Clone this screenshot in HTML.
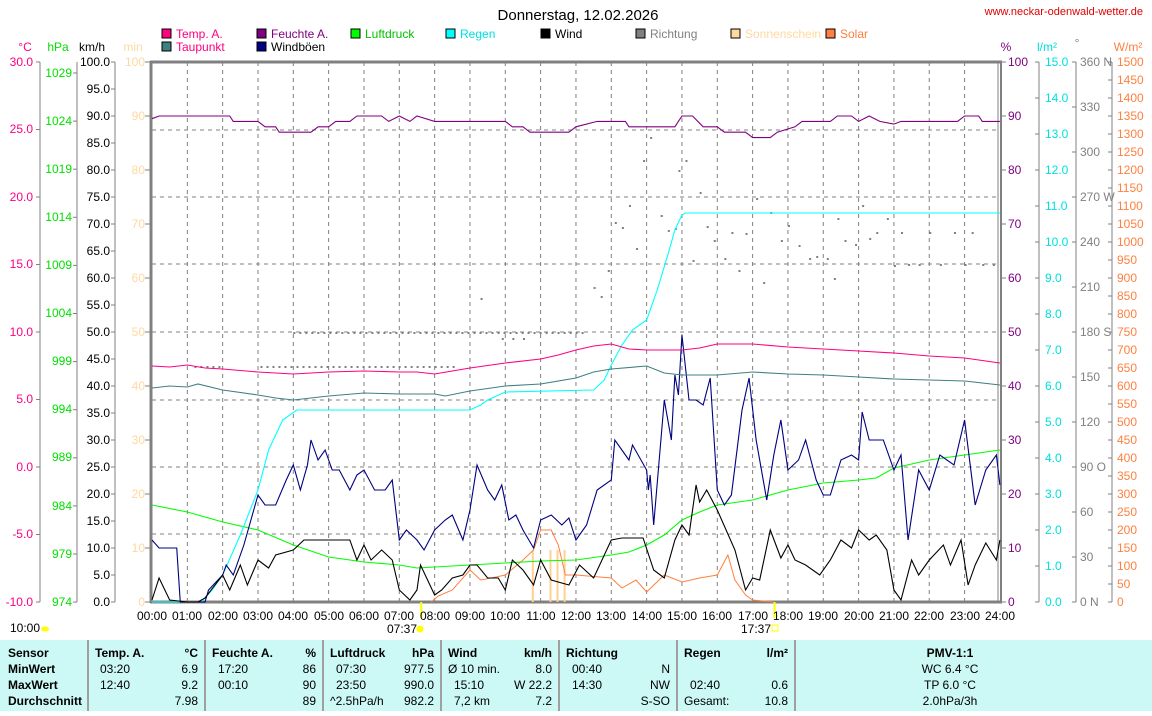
<!DOCTYPE html>
<html><head><meta charset="utf-8"><style>
body{margin:0;background:#fff;width:1152px;height:711px;overflow:hidden;font-family:"Liberation Sans",sans-serif}
svg text{font-family:"Liberation Sans",sans-serif;font-size:12px}
</style></head><body>
<svg id="s" width="1152" height="711" xmlns="http://www.w3.org/2000/svg">
<rect x="0" y="640" width="1152" height="71" fill="#ccf8f6"/>
<g stroke="#a0a0a0" stroke-width="2"><line x1="88" y1="640" x2="88" y2="711"/><line x1="205" y1="640" x2="205" y2="711"/><line x1="323" y1="640" x2="323" y2="711"/><line x1="441" y1="640" x2="441" y2="711"/><line x1="559" y1="640" x2="559" y2="711"/><line x1="677" y1="640" x2="677" y2="711"/><line x1="795" y1="640" x2="795" y2="711"/></g>
<text x="578" y="20" font-size="15" text-anchor="middle" style="font-size:15px">Donnerstag, 12.02.2026</text>
<text x="1143" y="15" fill="#e00000" text-anchor="end" style="font-size:11px">www.neckar-odenwald-wetter.de</text>
<g id="legend"></g>
<text x="25" y="51" fill="#ff0080" text-anchor="middle">°C</text>
<text x="58" y="51" fill="#00e000" text-anchor="middle">hPa</text>
<text x="92" y="51" fill="#000" text-anchor="middle">km/h</text>
<text x="133" y="51" fill="#ffd8a0" text-anchor="middle">min</text>
<text x="1006" y="51" fill="#800080" text-anchor="middle">%</text>
<text x="1047" y="51" fill="#00e0e0" text-anchor="middle">l/m²</text>
<text x="1077" y="47" fill="#808080" text-anchor="middle">°</text>
<text x="1128" y="51" fill="#ff8040" text-anchor="middle">W/m²</text>
<g id="grid"></g><g id="axes"></g><g id="series"></g>
<g fill="#ff0080" text-anchor="end">
<text x="33" y="66">30.0</text><text x="33" y="201">20.0</text><text x="33" y="133">25.0</text><text x="33" y="268">15.0</text><text x="33" y="336">10.0</text><text x="33" y="403">5.0</text><text x="33" y="471">0.0</text><text x="33" y="538">-5.0</text><text x="33" y="606">-10.0</text></g>
<g fill="#00e000" text-anchor="end">
<text x="72" y="77">1029</text><text x="72" y="125">1024</text><text x="72" y="173">1019</text><text x="72" y="221">1014</text><text x="72" y="269">1009</text><text x="72" y="317">1004</text><text x="72" y="365">999</text><text x="72" y="413">994</text><text x="72" y="461">989</text><text x="72" y="510">984</text><text x="72" y="558">979</text><text x="72" y="606">974</text></g>
<g fill="#000" text-anchor="end">
<text x="110" y="66">100.0</text><text x="110" y="93">95.0</text><text x="110" y="120">90.0</text><text x="110" y="147">85.0</text><text x="110" y="174">80.0</text><text x="110" y="201">75.0</text><text x="110" y="228">70.0</text><text x="110" y="255">65.0</text><text x="110" y="282">60.0</text><text x="110" y="309">55.0</text><text x="110" y="336">50.0</text><text x="110" y="363">45.0</text><text x="110" y="390">40.0</text><text x="110" y="417">35.0</text><text x="110" y="444">30.0</text><text x="110" y="471">25.0</text><text x="110" y="498">20.0</text><text x="110" y="525">15.0</text><text x="110" y="552">10.0</text><text x="110" y="579">5.0</text><text x="110" y="606">0.0</text></g>
<g fill="#ffd8a0" text-anchor="end">
<text x="145" y="66">100</text><text x="145" y="120">90</text><text x="145" y="174">80</text><text x="145" y="228">70</text><text x="145" y="282">60</text><text x="145" y="336">50</text><text x="145" y="390">40</text><text x="145" y="444">30</text><text x="145" y="498">20</text><text x="145" y="552">10</text><text x="145" y="606">0</text></g>
<g fill="#800080">
<text x="1008" y="66">100</text><text x="1008" y="120">90</text><text x="1008" y="174">80</text><text x="1008" y="228">70</text><text x="1008" y="282">60</text><text x="1008" y="336">50</text><text x="1008" y="390">40</text><text x="1008" y="444">30</text><text x="1008" y="498">20</text><text x="1008" y="552">10</text><text x="1008" y="606">0</text></g>
<g fill="#00e0e0">
<text x="1045" y="66">15.0</text><text x="1045" y="102">14.0</text><text x="1045" y="138">13.0</text><text x="1045" y="174">12.0</text><text x="1045" y="210">11.0</text><text x="1045" y="246">10.0</text><text x="1045" y="282">9.0</text><text x="1045" y="318">8.0</text><text x="1045" y="354">7.0</text><text x="1045" y="390">6.0</text><text x="1045" y="426">5.0</text><text x="1045" y="462">4.0</text><text x="1045" y="498">3.0</text><text x="1045" y="534">2.0</text><text x="1045" y="570">1.0</text><text x="1045" y="606">0.0</text></g>
<g fill="#808080">
<text x="1080" y="66">360 N</text><text x="1080" y="111">330</text><text x="1080" y="156">300</text><text x="1080" y="201">270 W</text><text x="1080" y="246">240</text><text x="1080" y="291">210</text><text x="1080" y="336">180 S</text><text x="1080" y="381">150</text><text x="1080" y="426">120</text><text x="1080" y="471">90  O</text><text x="1080" y="516">60</text><text x="1080" y="561">30</text><text x="1080" y="606">0    N</text></g>
<g fill="#ff8040" id="wlab"></g>
<g text-anchor="middle" fill="#000">
<text x="152" y="620">00:00</text><text x="187" y="620">01:00</text><text x="223" y="620">02:00</text><text x="258" y="620">03:00</text><text x="293" y="620">04:00</text><text x="329" y="620">05:00</text><text x="364" y="620">06:00</text><text x="399" y="620">07:00</text><text x="435" y="620">08:00</text><text x="470" y="620">09:00</text><text x="505" y="620">10:00</text><text x="541" y="620">11:00</text><text x="576" y="620">12:00</text><text x="611" y="620">13:00</text><text x="647" y="620">14:00</text><text x="682" y="620">15:00</text><text x="717" y="620">16:00</text><text x="753" y="620">17:00</text><text x="788" y="620">18:00</text><text x="823" y="620">19:00</text><text x="859" y="620">20:00</text><text x="894" y="620">21:00</text><text x="929" y="620">22:00</text><text x="965" y="620">23:00</text><text x="1000" y="620">24:00</text>
<text x="402" y="633">07:37</text><text x="756" y="633">17:37</text></g>
<circle cx="420" cy="629" r="3.5" fill="#ffff00"/>
<rect x="772" y="625" width="6" height="6" fill="none" stroke="#ffff00"/>
<text x="10" y="632">10:00</text><ellipse cx="45" cy="629" rx="4" ry="2.5" fill="#ffff00"/>
<g font-weight="bold" style="font-weight:bold">
<text x="8" y="657" font-weight="bold">Sensor</text><text x="8" y="673" font-weight="bold">MinWert</text><text x="8" y="689" font-weight="bold">MaxWert</text><text x="8" y="705" font-weight="bold">Durchschnitt</text>
<text x="95" y="657" font-weight="bold">Temp. A.</text><text x="198" y="657" text-anchor="end" font-weight="bold">°C</text>
<text x="212" y="657" font-weight="bold">Feuchte A.</text><text x="316" y="657" text-anchor="end" font-weight="bold">%</text>
<text x="330" y="657" font-weight="bold">Luftdruck</text><text x="434" y="657" text-anchor="end" font-weight="bold">hPa</text>
<text x="448" y="657" font-weight="bold">Wind</text><text x="552" y="657" text-anchor="end" font-weight="bold">km/h</text>
<text x="566" y="657" font-weight="bold">Richtung</text>
<text x="684" y="657" font-weight="bold">Regen</text><text x="788" y="657" text-anchor="end" font-weight="bold">l/m²</text>
<text x="950" y="657" text-anchor="middle" font-weight="bold">PMV-1:1</text></g>
<g>
<text x="100" y="673">03:20</text><text x="198" y="673" text-anchor="end">6.9</text>
<text x="100" y="689">12:40</text><text x="198" y="689" text-anchor="end">9.2</text>
<text x="198" y="705" text-anchor="end">7.98</text>
<text x="218" y="673">17:20</text><text x="316" y="673" text-anchor="end">86</text>
<text x="218" y="689">00:10</text><text x="316" y="689" text-anchor="end">90</text>
<text x="316" y="705" text-anchor="end">89</text>
<text x="336" y="673">07:30</text><text x="434" y="673" text-anchor="end">977.5</text>
<text x="336" y="689">23:50</text><text x="434" y="689" text-anchor="end">990.0</text>
<text x="330" y="705">^2.5hPa/h</text><text x="434" y="705" text-anchor="end">982.2</text>
<text x="448" y="673">Ø 10 min.</text><text x="552" y="673" text-anchor="end">8.0</text>
<text x="454" y="689">15:10</text><text x="552" y="689" text-anchor="end">W 22.2</text>
<text x="454" y="705">7,2 km</text><text x="552" y="705" text-anchor="end">7.2</text>
<text x="572" y="673">00:40</text><text x="670" y="673" text-anchor="end">N</text>
<text x="572" y="689">14:30</text><text x="670" y="689" text-anchor="end">NW</text>
<text x="670" y="705" text-anchor="end">S-SO</text>
<text x="690" y="689">02:40</text><text x="788" y="689" text-anchor="end">0.6</text>
<text x="684" y="705">Gesamt:</text><text x="788" y="705" text-anchor="end">10.8</text>
<text x="950" y="673" text-anchor="middle">WC 6.4 °C</text>
<text x="950" y="689" text-anchor="middle">TP 6.0 °C</text>
<text x="950" y="705" text-anchor="middle">2.0hPa/3h</text></g>
</svg>
<script>
var NS="http://www.w3.org/2000/svg";
function el(p,t,a){var e=document.createElementNS(NS,t);for(var k in a)e.setAttribute(k,a[k]);document.getElementById(p).appendChild(e);return e;}
function X(h){return 152+h*35.33;}
var L=[[162,38,"#ff0080","Temp. A.","#ff0080"],[257,38,"#800080","Feuchte A.","#800080"],[351,38,"#00ff00","Luftdruck","#00c000"],[446,38,"#00ffff","Regen","#00e0e0"],[541,38,"#000000","Wind","#000"],[636,38,"#808080","Richtung","#808080"],[731,38,"#ffd8a0","Sonnenschein","#ffd8a0"],[826,38,"#ff8040","Solar","#ff8040"],[162,51,"#408080","Taupunkt","#ff0080"],[257,51,"#000080","Windböen","#000"]];
L.forEach(function(l){el("legend","rect",{x:l[0],y:l[1]-9,width:9,height:9,fill:l[2],stroke:"#000"});var t=el("legend","text",{x:l[0]+14,y:l[1],fill:l[4]});t.textContent=l[3];});
for(var k=0;k<=30;k++){var t=el("wlab","text",{x:1117,y:62+18*k+4});t.textContent=String(1500-50*k);}
for(var h=1;h<24;h++)el("grid","line",{x1:X(h),y1:62,x2:X(h),y2:602,stroke:"#808080","stroke-dasharray":"4,4"});
[130,197,264,332,400,467,534].forEach(function(y){el("grid","line",{x1:152,y1:y,x2:998,y2:y,stroke:"#808080","stroke-dasharray":"4,4"});});
el("axes","line",{x1:151,y1:61,x2:151,y2:603,stroke:"#808080","stroke-width":3});
el("axes","line",{x1:150,y1:62,x2:1002,y2:62,stroke:"#808080","stroke-width":3});
el("axes","line",{x1:150,y1:602,x2:1002,y2:602,stroke:"#808080","stroke-width":3});
el("axes","line",{x1:998,y1:62,x2:998,y2:602,stroke:"#808080","stroke-width":1});
el("axes","line",{x1:1001,y1:62,x2:1001,y2:602,stroke:"#808080","stroke-width":2});
function ax(x,step,n,side,y0){el("axes","line",{x1:x,y1:62,x2:x,y2:602,stroke:"#808080"});for(var i=0;i<=n;i++){var y=(y0||62)+step*i;if(y>602.5)break;el("axes","line",{x1:x-(side?0:4),y1:y,x2:x+(side?4:0),y2:y,stroke:"#808080"});}}
ax(40,67.5,8,0);ax(77,48.1,11,0,73);ax(115,27,20,0);ax(1039,36,15,0);ax(1076,45,12,0);ax(1112,18,30,0);
for(var i=0;i<=10;i++){el("axes","line",{x1:145,y1:62+54*i,x2:151,y2:62+54*i,stroke:"#808080"});el("axes","line",{x1:1001,y1:62+54*i,x2:1006,y2:62+54*i,stroke:"#808080"});}
function pl(pts,c,w){el("series","polyline",{points:pts.map(function(p){return X(p[0])+","+p[1];}).join(" "),fill:"none",stroke:c,"stroke-width":w||1.1});}
var D=[];for(var h=4;h<12.3;h+=0.17)D.push([h,332]);for(var h=1.2;h<8.6;h+=0.17)if(h<2||h>2.9)D.push([h,366]);
[[9.3,298],[9.9,338],[10.2,338],[10.5,338],[12.5,287],[12.7,296],[12.9,270],[13.1,222],[13.3,227],[13.5,205],[13.7,248],[13.9,160],[14.1,137],[14.4,215],[14.6,230],[14.8,228],[14.9,170],[15.1,160],[15.3,260],[15.5,192],[15.7,226],[15.9,240],[16.2,258],[16.4,232],[16.6,270],[16.8,233],[17.1,198],[17.3,282],[17.5,212],[17.8,240],[18,225],[18.3,245],[18.6,258],[18.8,256],[19.1,258],[19.3,278],[19.4,218],[19.6,240],[19.9,244],[20.1,205],[20.3,238],[20.5,232],[20.8,218],[21,265],[21.2,232],[21.4,264],[21.7,264],[22,232],[22.3,264],[22.7,232],[23,264],[23.2,232],[23.5,264],[23.8,264],[24,264]].forEach(function(p){D.push(p);});
D.forEach(function(p){el("series","rect",{x:X(p[0]),y:p[1],width:2,height:2,fill:"#808080"});});
[10.75,11.25,11.45,11.65].forEach(function(h){el("series","rect",{x:X(h),y:550,width:2,height:52,fill:"#ffd090"});});
pl([[7.9,602],[8.1,596],[8.5,590],[9,570],[9.3,580],[9.6,578],[10,575],[10.5,560],[10.8,550],[11,530],[11.3,530],[11.5,545],[11.7,575],[12,575],[13,578],[13.3,588],[13.7,580],[14,592],[14.5,575],[15,582],[15.5,578],[16,575],[16.3,555],[16.5,580],[16.8,595],[17,600],[17.6,602]],"#ff8040",1);
pl([[0,505],[1,512],[2,522],[3,530],[4,545],[5,557],[6,562],[7,565],[7.5,568],[8,567],[9,565],[10,563],[11,561],[12,560],[13,555],[13.5,552],[14,545],[14.5,535],[15,520],[15.5,512],[16,505],[17,500],[18,490],[19,483],[20,480],[20.5,478],[21,468],[22,460],[23,455],[24,450]],"#00ff00");
pl([[0,602],[1.4,602],[1.7,590],[2,575],[2.5,535],[3,490],[3.3,450],[3.7,420],[4.1,410],[9,410],[9.3,405],[9.5,400],[10,392],[12.5,390],[12.8,380],[13,365],[13.3,345],[13.6,330],[14,320],[14.3,290],[14.6,255],[14.8,230],[15,215],[15.1,213],[24,213]],"#00ffff");
pl([[0,540],[0.2,548],[0.7,548],[0.8,602],[1.5,602],[1.6,590],[2,575],[2.1,565],[2.3,575],[2.6,545],[2.8,520],[3,495],[3.2,505],[3.5,505],[3.8,480],[4,465],[4.2,490],[4.4,465],[4.5,440],[4.7,460],[4.9,450],[5.1,470],[5.3,470],[5.6,490],[5.8,475],[6,470],[6.3,490],[6.6,490],[6.8,480],[7,540],[7.2,530],[7.5,540],[7.7,550],[8,530],[8.3,520],[8.5,515],[8.8,540],[9,510],[9.2,465],[9.5,490],[9.7,500],[9.9,485],[10.1,520],[10.3,515],[10.5,530],[10.8,548],[11,520],[11.3,515],[11.6,525],[11.8,518],[12,540],[12.3,525],[12.6,490],[13,480],[13.1,440],[13.3,450],[13.5,460],[13.6,445],[14,470],[14.05,490],[14.1,475],[14.2,525],[14.5,400],[14.7,440],[14.8,375],[14.9,395],[15,335],[15.2,400],[15.4,400],[15.6,405],[15.8,378],[16,490],[16.2,505],[16.4,495],[16.7,410],[16.9,378],[17.1,440],[17.4,500],[17.6,455],[17.8,420],[18,470],[18.3,460],[18.5,440],[18.8,480],[19,495],[19.2,495],[19.5,460],[19.8,455],[20,460],[20.1,412],[20.3,440],[20.7,440],[21,470],[21.2,455],[21.4,540],[21.7,470],[22,490],[22.3,455],[22.7,465],[23,420],[23.3,505],[23.6,470],[23.9,455],[24,485]],"#000080");
pl([[0,600],[0.2,578],[0.5,600],[1,602],[1.3,602],[1.5,598],[2,575],[2.2,590],[2.5,565],[2.7,585],[3,560],[3.3,568],[3.5,555],[4,550],[4.3,540],[4.8,540],[5.6,540],[5.8,560],[6,545],[6.2,560],[6.5,550],[6.8,560],[7,590],[7.3,600],[7.5,590],[7.6,565],[7.8,580],[8,595],[8.2,590],[8.5,578],[8.8,575],[9,565],[9.2,565],[9.5,578],[9.8,578],[10,590],[10.2,560],[10.5,570],[10.8,585],[11,560],[11.3,580],[11.8,585],[12.1,565],[12.5,578],[13,540],[13.3,538],[13.9,538],[14.2,570],[14.5,578],[14.8,540],[15,525],[15.2,535],[15.4,485],[15.5,502],[15.7,490],[16,510],[16.5,550],[16.8,590],[17,578],[17.2,580],[17.5,530],[17.8,558],[18,545],[18.2,560],[18.5,565],[18.9,575],[19.2,560],[19.5,540],[19.8,548],[20,530],[20.3,540],[20.5,535],[20.8,550],[21,590],[21.2,600],[21.5,560],[21.7,575],[22,560],[22.4,545],[22.6,565],[22.9,540],[23.1,585],[23.3,565],[23.6,543],[23.9,560],[24,540]],"#000");
pl([[0,388],[0.5,386],[1,387],[1.3,384],[2,390],[3,395],[3.5,398],[4,400],[5,396],[6,393],[7,394],[8,394],[8.3,396],[9,391],[10,386],[11,384],[12,378],[12.5,372],[13,369],[14,366],[14.5,373],[15,375],[16,375],[17,372],[18,374],[19,375],[20,377],[21,379],[22,380],[23,381],[24,385]],"#408080");
pl([[0,366],[0.5,367],[1,365],[1.5,368],[2,369],[3,372],[3.5,373],[4,374],[4.5,373],[5,372],[6,371],[7,372],[7.5,372],[8,374],[8.5,371],[9,368],[10,363],[11,359],[11.5,355],[12,350],[12.5,346],[13,344],[13.5,349],[14,350],[15,350],[15.5,348],[16,344],[17,344],[18,347],[19,349],[20,351],[21,353],[22,356],[23,358],[24,363]],"#ff0080");
var H=[[0,89.5],[0.2,90],[2.2,90],[2.3,89],[3,89],[3.2,88],[3.5,88],[3.6,87],[4.5,87],[4.7,88],[5,88],[5.2,89],[5.6,89],[5.8,90],[6.5,90],[6.7,89],[7,90],[7.3,89],[7.5,90],[8,89],[10,89],[10.2,88],[10.5,88],[10.7,87],[11.8,87],[12,88],[12.6,89],[13.4,89],[13.5,88],[14.8,88],[15,90],[15.3,90],[15.6,88],[16,88],[16.2,87],[16.8,87],[17,86],[17.5,86],[17.7,87],[18.2,88],[18.4,89],[19.2,89],[19.4,90],[19.8,90],[20,89],[20.3,90],[20.6,89],[21,88.5],[21.2,89],[22.8,89],[23,90],[23.4,90],[23.5,89],[24,89]];
pl(H.map(function(p){return [p[0],62+5.4*(100-p[1])];}),"#800080");
el("series","line",{x1:X(7.62),y1:602,x2:X(7.62),y2:618,stroke:"#ffff00","stroke-width":2});
el("series","line",{x1:X(17.62),y1:602,x2:X(17.62),y2:618,stroke:"#ffff00","stroke-width":2});
</script>
</body></html>
